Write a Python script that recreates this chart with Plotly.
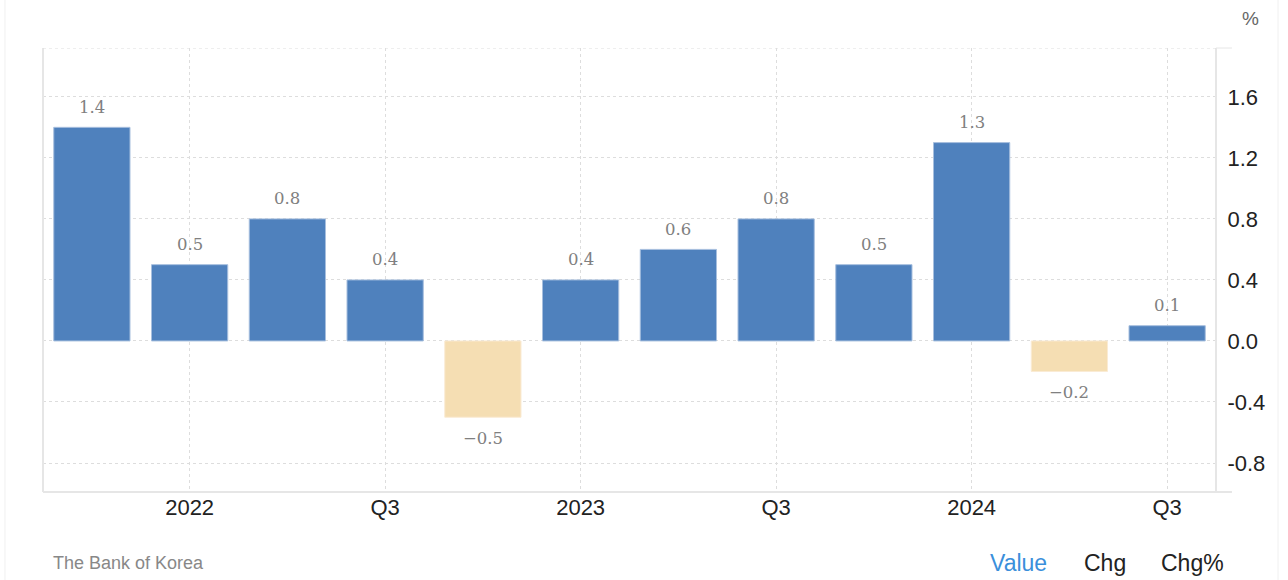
import plotly.graph_objects as go

quarters = ["Q4 2021", "Q1 2022", "Q2 2022", "Q3 2022", "Q4 2022", "Q1 2023",
            "Q2 2023", "Q3 2023", "Q4 2023", "Q1 2024", "Q2 2024", "Q3 2024"]
values = [1.4, 0.5, 0.8, 0.4, -0.5, 0.4, 0.6, 0.8, 0.5, 1.3, -0.2, 0.1]
tick_positions = ["Q1 2022", "Q3 2022", "Q1 2023", "Q3 2023", "Q1 2024", "Q3 2024"]
tick_labels = ["2022", "Q3", "2023", "Q3", "2024", "Q3"]
y_ticks = [-0.8, -0.4, 0.0, 0.4, 0.8, 1.2, 1.6]

POS = "#4F81BD"
NEG = "#F5DEB3"
colors = [POS if v >= 0 else NEG for v in values]
line_colors = ["#A7BFDE" if v >= 0 else "#FAEBD4" for v in values]

fig = go.Figure()
fig.add_trace(go.Bar(
    x=quarters, y=values,
    marker=dict(color=colors, line=dict(color=line_colors, width=1)),
    hoverinfo="x+y",
))

for q, v in zip(quarters, values):
    fig.add_annotation(
        x=q, y=v, text=("−" if v < 0 else "") + f"{abs(v):.1f}",
        showarrow=False, yshift=20 if v >= 0 else -21,
        font=dict(family="DejaVu Serif", size=16.5, color="#808080"),
        xanchor="center", yanchor="middle",
    )

fig.add_annotation(xref="paper", yref="paper", x=1.0, y=1.0, xanchor="center",
                   yanchor="middle", xshift=34, yshift=30, text="%", showarrow=False,
                   font=dict(family="Liberation Sans, Arial", size=19, color="#666"))
fig.add_annotation(xref="paper", yref="paper", x=0, y=0, xanchor="left", yanchor="middle",
                   xshift=8, yshift=-71, text="The Bank of Korea", showarrow=False,
                   font=dict(family="Liberation Sans, Arial", size=18, color="#888"))
for txt, xs, col in [("Value", 945, "#3A8FDB"), ("Chg", 1039, "#222"), ("Chg%", 1116, "#222")]:
    fig.add_annotation(xref="paper", yref="paper", x=0, y=0, xanchor="left", yanchor="middle",
                       xshift=xs, yshift=-71, text=txt, showarrow=False,
                       font=dict(family="Liberation Sans, Arial", size=23, color=col))

fig.update_layout(
    width=1288, height=580,
    margin=dict(l=43, r=72, t=48, b=88),
    paper_bgcolor="white", plot_bgcolor="white",
    bargap=0.22, showlegend=False,
    font=dict(family="Liberation Sans, Arial", color="#222"),
    shapes=[
        dict(type="line", xref="paper", yref="paper", x0=0, x1=1.0136, y0=0, y1=0,
             line=dict(color="#e6e6e6", width=2)),
        dict(type="line", xref="paper", yref="paper", x0=0, x1=0, y0=0, y1=1,
             line=dict(color="#e6e6e6", width=2)),
        dict(type="line", xref="paper", yref="paper", x0=1, x1=1, y0=0, y1=1,
             line=dict(color="#e6e6e6", width=2)),
        dict(type="line", xref="paper", yref="paper", x0=1, x1=1.0136, y0=1, y1=1,
             line=dict(color="#e6e6e6", width=1)),
        dict(type="line", xref="paper", yref="paper", x0=-0.0324, x1=-0.0324, y0=-0.25, y1=1.15,
             line=dict(color="#f0f0f0", width=1)),
        dict(type="line", xref="paper", yref="paper", x0=1.0529, x1=1.0529, y0=-0.25, y1=1.15,
             line=dict(color="#f0f0f0", width=1)),
    ],
)
fig.update_xaxes(
    type="category", range=[-0.5, 11.5],
    tickmode="array", tickvals=tick_positions, ticktext=tick_labels,
    showgrid=True, gridcolor="#dddddd", griddash="dot", gridwidth=1,
    tickfont=dict(size=22, color="#222"), ticks="", showline=False, zeroline=False,
)
fig.update_yaxes(
    side="right", range=[-0.99, 1.92],
    tickmode="array", tickvals=y_ticks, ticktext=[f"{t:.1f}" for t in y_ticks],
    showgrid=True, gridcolor="#dddddd", griddash="dot", gridwidth=1,
    zeroline=False, showline=False, ticks="outside", ticklen=6, tickcolor="rgba(0,0,0,0)",
    tickfont=dict(size=22, color="#222"),
)
# top dotted border
fig.add_hline(y=1.92, line=dict(color="#dddddd", dash="dot", width=1))

fig.write_html(
    "out.html",
    config={"displayModeBar": False},
    post_script="document.body.style.margin='0px';document.body.style.overflow='hidden';",
)
